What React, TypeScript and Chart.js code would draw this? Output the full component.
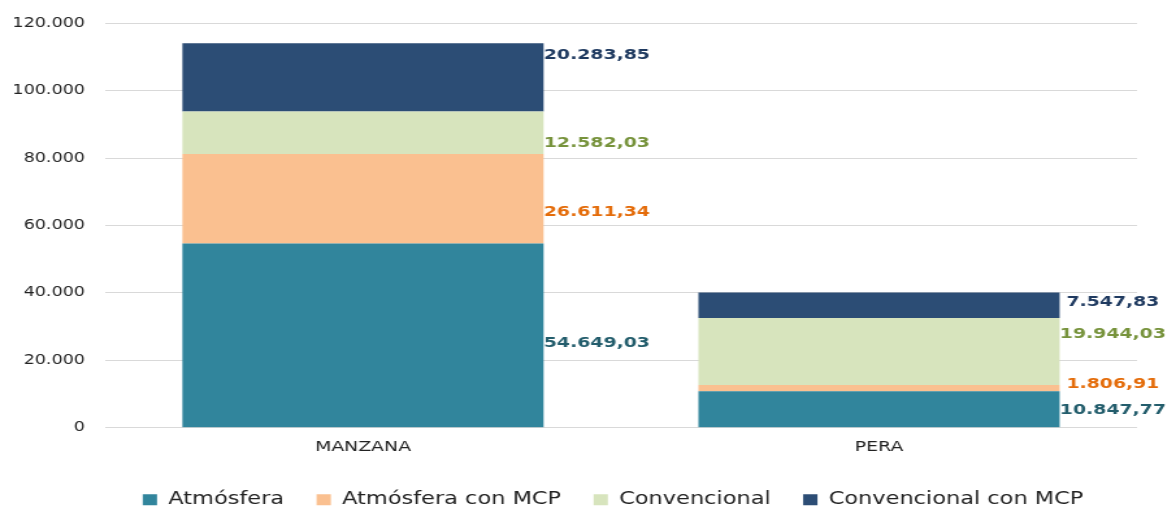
import React, { useEffect, useRef } from "react";
import { Chart, registerables } from "chart.js";

Chart.register(...registerables);

const categories = ["MANZANA", "PERA"];
const seriesNames = ["Atmósfera", "Atmósfera con MCP", "Convencional", "Convencional con MCP"];
const atmosfera = [54649.03, 10847.77];
const atmosferaMcp = [26611.34, 1806.91];
const convencional = [12582.03, 19944.03];
const convencionalMcp = [20283.85, 7547.83];
const yMax = 120000;
const yStep = 20000;

const barColors = ["#31859C", "#FAC090", "#D7E4BD", "#2C4D75"];
const labelColors = ["#235D6C", "#E46C0A", "#77933C", "#1F3A60"];
// vertical nudges of the value labels (px), per series / per category
const labelNudge = [
  [8, 1],
  [13, -4],
  [10, -17],
  [-22, -3],
];

const SX = 1176 / 905;
const FONT = "'DejaVu Sans', Verdana, sans-serif";

function fmtNum(v: number, dec: number): string {
  const fixed = v.toFixed(dec);
  const [ip, dp] = fixed.split(".");
  const withDots = ip.replace(/\B(?=(\d{3})+(?!\d))/g, ".");
  return dp ? withDots + "," + dp : withDots;
}

const valueLabels = {
  id: "valueLabels",
  afterDatasetsDraw(chart: any) {
    const ctx = chart.ctx;
    ctx.save();
    ctx.font = `bold 14.5px ${FONT}`;
    ctx.textAlign = "center";
    ctx.textBaseline = "middle";
    chart.data.datasets.forEach((ds: any, i: number) => {
      const meta = chart.getDatasetMeta(i);
      meta.data.forEach((el: any, j: number) => {
        const v = ds.data[j] as number;
        const x = el.x + el.width / 2 + 41;
        const y = (el.y + el.base) / 2 + labelNudge[i][j];
        ctx.fillStyle = labelColors[i];
        ctx.fillText(fmtNum(v, 2), x, y);
      });
    });
    ctx.restore();
  },
};

export default function App() {
  const ref = useRef<HTMLCanvasElement | null>(null);
  useEffect(() => {
    if (!ref.current) return;
    Chart.defaults.font.family = FONT;
    const series = [atmosfera, atmosferaMcp, convencional, convencionalMcp];
    const chart = new Chart(ref.current, {
      type: "bar",
      data: {
        labels: categories,
        datasets: series.map((d, i) => ({
          label: seriesNames[i],
          data: d,
          backgroundColor: barColors[i],
          borderWidth: 0,
          barPercentage: 0.7,
          categoryPercentage: 1,
        })),
      },
      options: {
        responsive: false,
        animation: false,
        devicePixelRatio: 1,
        layout: { padding: { left: 0, right: -38.6, top: 19, bottom: 1.5 } },
        plugins: {
          tooltip: { enabled: false },
          legend: {
            position: "bottom",
            labels: {
              boxWidth: 11,
              boxHeight: 11,
              padding: 25,
              color: "#222",
              font: { size: 17.3, family: FONT },
            },
          },
        },
        scales: {
          x: {
            stacked: true,
            grid: { display: false },
            border: { display: false },
            ticks: { color: "#222", font: { size: 14.5, family: FONT }, padding: 3 },
            afterFit: (s: any) => {
              s.height = 38.5;
            },
          },
          y: {
            stacked: true,
            min: 0,
            max: yMax,
            border: { display: false },
            grid: { color: "#d9d9d9", drawTicks: false, lineWidth: 1 },
            ticks: {
              stepSize: yStep,
              padding: 15.4,
              color: "#222",
              font: { size: 13.5, family: FONT },
              callback: (v: any) => fmtNum(Number(v), 0),
            },
            afterFit: (s: any) => {
              s.width = 80.8;
            },
          },
          y2: {
            type: "linear",
            position: "right",
            display: true,
            grid: { display: false },
            border: { display: false },
            ticks: { display: false },
            afterFit: (s: any) => {
              s.width = 68.6;
            },
          },
        },
      },
      plugins: [valueLabels],
    });
    return () => chart.destroy();
  }, []);

  return (
    <div
      style={{
        position: "absolute",
        left: 0,
        top: 0,
        width: 1176,
        height: 507,
        overflow: "hidden",
        background: "#fff",
      }}
    >
      <canvas
        ref={ref}
        width={905}
        height={520}
        style={{
          display: "block",
          width: 905,
          height: 520,
          transform: `scaleX(${SX})`,
          transformOrigin: "0 0",
        }}
      />
    </div>
  );
}
